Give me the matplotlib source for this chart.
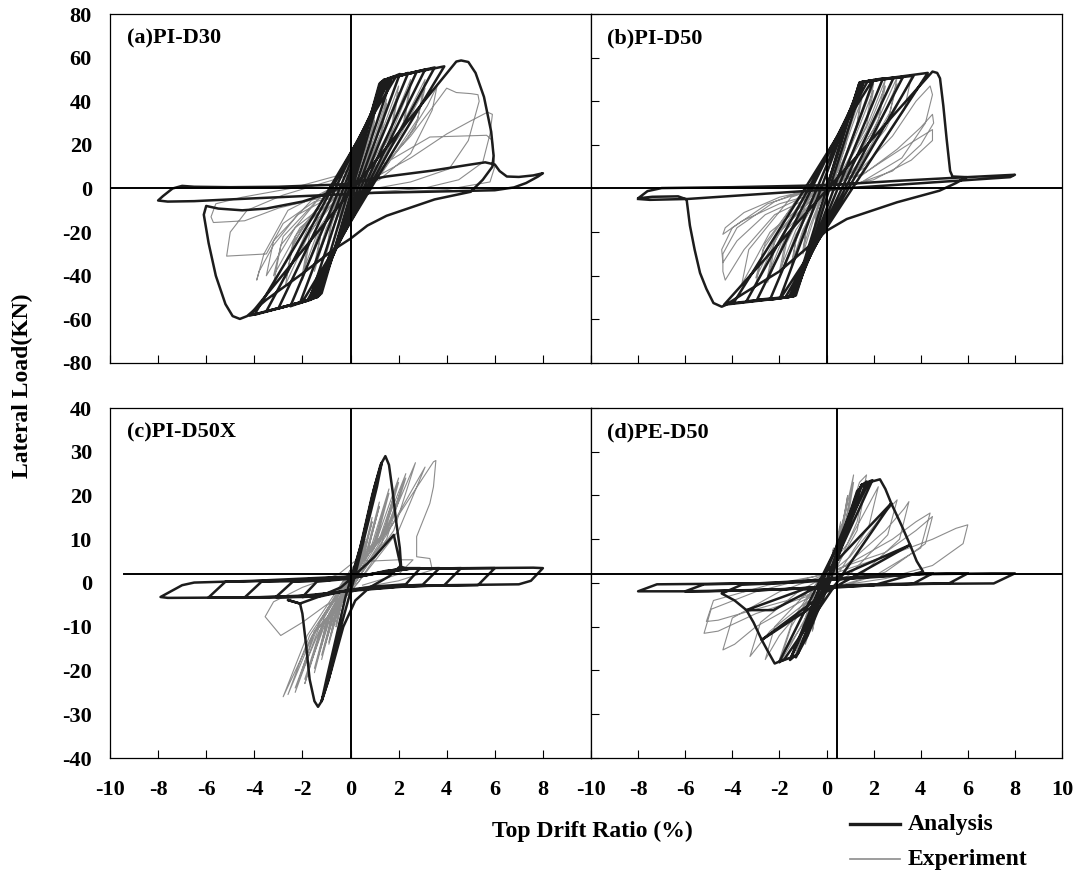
import numpy as np
import matplotlib.pyplot as plt

plt.rcParams['font.family'] = ['Liberation Serif', 'DejaVu Serif']
plt.rcParams['font.weight'] = 'bold'
plt.rcParams['axes.unicode_minus'] = False

ANA_COLOR = '#1c1c1c'
EXP_COLOR = '#8c8c8c'

# (a) PI-D30 : analysis path (drift %, load kN)
a_ana = [
    (0.0, 0.0), (1.2, 48), (1.4, 50), (-1.2, -48), (-1.4, -50),
    (1.25, 48.5), (1.7, 50.5), (-1.3, -49), (-1.7, -51),
    (1.3, 49), (2.05, 52.5), (-1.35, -49.5), (-2.1, -52.5),
    (1.4, 49.5), (2.4, 53), (-1.45, -50), (-2.5, -54),
    (1.45, 50), (2.75, 53.5), (-1.55, -50.5), (-3.0, -55),
    (1.55, 50.5), (3.1, 54.5), (-1.65, -51), (-3.5, -56.3),
    (1.7, 51), (3.5, 55.5), (-1.8, -51.5), (-4.0, -57.9),
    (1.9, 51.5), (3.9, 56), (-2.0, -52), (-4.2, -58.3),
    (4.4, 58.2), (4.6, 58.7), (4.9, 58.0), (5.2, 53), (5.55, 42),
    (5.85, 26), (5.95, 15), (5.9, 10), (5.5, 4), (5.0, -1.5), (3.5, -5),
    (1.5, -12.5), (0.7, -17), (0.0, -23), (-0.7, -28), (-2.0, -39),
    (-3.5, -51), (-4.3, -58.5), (-4.6, -59.8), (-4.9, -58.5), (-5.2, -53),
    (-5.6, -40), (-5.9, -25), (-6.1, -12), (-6.0, -8), (-5.5, -9.2),
    (-4.5, -10), (-3.5, -9.2), (-2.0, -6), (-1.0, -2.5), (0.0, 2.5),
    (1.5, 5.5), (3.4, 8.2), (5.0, 11), (5.6, 12), (6.0, 11), (6.2, 8),
    (6.5, 5.5), (7.0, 5.3), (7.6, 6), (8.0, 7), (7.8, 5.5), (7.3, 2.5),
    (6.8, 0.5), (6.0, -0.8), (4.0, -1.3), (1.0, -2), (-1.0, -3),
    (-3.0, -4), (-5.0, -5), (-6.5, -5.8), (-7.6, -6), (-8.0, -5.5),
    (-7.8, -3.5), (-7.4, 0), (-7.0, 1.2), (-6.5, 0.8), (-5.0, 0.6),
    (-3.0, 0.8), (0.0, 2),
]

# (a) PI-D30 : experiment path
a_exp = [
    (0.0, 0.0), (0.25, 11), (0.5, 20), (0.4, 12), (0.15, 3), (-0.2, -6),
    (-0.4, -14), (-0.5, -18), (-0.4, -10), (-0.15, -2),
    (0.2, 6), (0.4, 15), (0.5, 19), (0.38, 11), (0.1, 2), (-0.2, -7),
    (-0.42, -15), (-0.5, -17), (-0.38, -9), (-0.1, -1),
    (0.3, 7), (0.7, 22), (1.0, 33), (0.8, 20), (0.4, 5), (-0.2, -4),
    (-0.7, -18), (-1.0, -30), (-0.8, -17), (-0.4, -4),
    (0.2, 4), (0.7, 20), (1.0, 31), (0.8, 18), (0.3, 3), (-0.3, -5),
    (-0.7, -17), (-1.0, -28), (-0.8, -15), (-0.3, -2),
    (0.4, 6), (1.0, 24), (1.5, 41), (1.25, 25), (0.6, 6), (-0.3, -4),
    (-1.0, -20), (-1.5, -38), (-1.25, -22), (-0.5, -3),
    (0.4, 5), (1.0, 22), (1.5, 39), (1.25, 23), (0.5, 4), (-0.4, -5),
    (-1.0, -18), (-1.5, -35), (-1.2, -19), (-0.5, -2),
    (0.5, 6), (1.3, 26), (2.0, 47), (1.7, 28), (0.8, 7), (-0.4, -4),
    (-1.3, -20), (-2.0, -42), (-1.7, -24), (-0.7, -3),
    (0.5, 5), (1.3, 24), (2.0, 44), (1.7, 26), (0.7, 5), (-0.5, -5),
    (-1.3, -18), (-2.0, -39), (-1.7, -21), (-0.7, -2),
    (0.6, 6), (1.6, 26), (2.5, 50), (2.2, 30), (1.0, 7), (-0.5, -4),
    (-1.7, -20), (-2.7, -44), (-2.4, -25), (-1.0, -3),
    (0.6, 5), (1.7, 25), (2.5, 47), (2.2, 28), (0.9, 5), (-0.6, -5),
    (-1.8, -19), (-2.7, -41), (-2.3, -22), (-0.9, -2),
    (0.8, 6), (2.0, 26), (3.1, 50), (2.8, 32), (1.3, 7), (-0.6, -4),
    (-2.0, -18), (-3.2, -44), (-2.9, -26), (-1.2, -3),
    (0.8, 5), (2.1, 25), (3.1, 46), (2.7, 28), (1.1, 5), (-0.7, -5),
    (-2.1, -18), (-3.2, -40), (-2.8, -22), (-1.1, -2),
    (1.0, 5), (2.3, 22), (3.2, 38), (3.6, 47), (3.4, 36), (2.5, 16),
    (1.2, 4), (-0.8, -5), (-2.3, -18), (-3.5, -40), (-3.2, -24),
    (-1.5, -4), (0.2, 3),
    (1.0, 6), (2.5, 24), (3.6, 40), (4.0, 46), (4.4, 44), (5.0, 43.5),
    (5.3, 43), (5.35, 40), (4.9, 22), (4.1, 9), (2.5, 3), (0.5, -1),
    (-1.0, -5), (-2.2, -12), (-3.2, -26), (-3.8, -38), (-3.9, -42),
    (-3.6, -30), (-2.6, -10), (-1.0, -1), (0.5, 5),
    (1.0, 5), (2.5, 14), (4.0, 25), (5.0, 31), (5.7, 35), (5.9, 34),
    (5.8, 25), (5.5, 12), (4.5, 4), (3.0, 0), (0.5, -2), (-1.5, -6),
    (-2.8, -16), (-3.5, -30), (-4.3, -30.5), (-5.15, -31), (-5.0, -20),
    (-4.3, -10), (-2.8, -3), (-1.0, 3), (0.2, 7),
    (1.5, 12), (3.3, 23.6), (4.5, 24), (5.66, 24.4), (5.9, 22), (6.0, 10),
    (5.8, 3), (4.0, -0.5), (1.0, -2), (-1.5, -5), (-3.0, -9),
    (-4.4, -14.8), (-5.7, -15.6), (-5.8, -13), (-5.6, -7), (-4.5, -4),
    (-2.5, 0), (-0.5, 6), (0.0, 9),
]

# (b) PI-D50 : analysis path
b_ana = [
    (0.0, 0.0), (1.4, 48.5), (1.56, 49), (-1.3, -49), (-1.41, -49.4),
    (1.4, 48.5), (2.0, 49.7), (-1.35, -49.2), (-1.97, -50.2),
    (1.45, 48.7), (2.4, 50.5), (-1.4, -49.4), (-2.4, -51),
    (1.5, 48.8), (2.85, 50.8), (-1.5, -49.6), (-2.95, -51),
    (1.6, 49), (3.25, 51.2), (-1.6, -49.8), (-3.4, -51.7),
    (1.75, 49.2), (3.7, 51.7), (-1.75, -50), (-3.95, -52.5),
    (1.95, 49.6), (4.3, 53), (-1.95, -50.3), (-4.35, -53.3),
    (4.5, 53.6), (4.7, 53), (4.82, 50.5), (4.96, 38), (5.1, 22.8),
    (5.25, 8), (5.35, 5.5), (5.95, 5.2), (5.5, 2.5), (4.8, -1),
    (3.0, -6.3), (0.86, -14), (0.0, -19.4), (-0.56, -24.8), (-2.0, -38),
    (-3.5, -48), (-4.3, -53.5), (-4.45, -54.2), (-4.8, -52.5),
    (-5.1, -46), (-5.37, -38.7), (-5.6, -28), (-5.8, -17), (-5.94, -5),
    (-6.3, -3.6), (-7.4, -3.8), (-8.0, -4.5), (-7.6, -1.2), (-7.0, 0.2),
    (-4.0, 0.6), (0.0, 1.5), (3.0, 3.5), (5.95, 5.2), (8.0, 6.3),
    (7.8, 5.2), (-5.9, -4.8), (-7.5, -5.2), (-8.0, -4.8),
]

# (b) PI-D50 : experiment path
b_exp = [
    (0.0, 0.0), (0.25, 10), (0.5, 20), (0.4, 12), (0.1, 2), (-0.2, -7),
    (-0.5, -18), (-0.4, -10), (-0.1, -1),
    (0.25, 9), (0.5, 19), (0.38, 11), (0.1, 1), (-0.25, -8), (-0.5, -17),
    (-0.35, -8), (0.0, 0),
    (0.4, 12), (0.8, 26), (1.0, 34), (0.85, 22), (0.4, 6), (-0.2, -4),
    (-0.6, -16), (-1.0, -30), (-0.85, -18), (-0.4, -4),
    (0.3, 8), (0.8, 24), (1.0, 32), (0.8, 19), (0.3, 3), (-0.3, -6),
    (-0.7, -17), (-1.0, -28), (-0.8, -15), (-0.3, -2),
    (0.4, 8), (1.0, 28), (1.5, 44), (1.3, 30), (0.6, 8), (-0.3, -5),
    (-1.0, -20), (-1.5, -37), (-1.3, -24), (-0.6, -5),
    (0.4, 7), (1.0, 26), (1.5, 41), (1.25, 27), (0.5, 6), (-0.4, -6),
    (-1.0, -19), (-1.5, -35), (-1.25, -21), (-0.5, -3),
    (0.5, 8), (1.3, 28), (2.0, 48), (1.7, 32), (0.8, 9), (-0.4, -5),
    (-1.3, -21), (-2.0, -41), (-1.7, -25), (-0.7, -4),
    (0.5, 6), (1.3, 26), (2.0, 45), (1.7, 29), (0.7, 7), (-0.5, -6),
    (-1.3, -19), (-2.0, -38), (-1.7, -22), (-0.7, -3),
    (0.6, 7), (1.7, 28), (2.5, 50), (2.2, 34), (1.0, 9), (-0.5, -5),
    (-1.7, -21), (-2.5, -43), (-2.2, -27), (-0.9, -4),
    (0.6, 6), (1.7, 26), (2.5, 47), (2.2, 31), (0.9, 7), (-0.6, -6),
    (-1.7, -19), (-2.5, -40), (-2.2, -24), (-0.9, -3),
    (0.8, 7), (2.0, 27), (3.0, 51), (2.7, 35), (1.3, 9), (-0.6, -5),
    (-2.0, -20), (-3.0, -44), (-2.7, -28), (-1.2, -4),
    (0.8, 6), (2.1, 26), (3.0, 48), (2.6, 31), (1.2, 7), (-0.7, -6),
    (-2.0, -19), (-3.0, -41), (-2.6, -25), (-1.1, -3),
    (1.0, 7), (2.5, 27), (3.6, 51), (3.3, 36), (1.7, 10), (-0.7, -5),
    (-2.4, -20), (-3.6, -44), (-3.3, -28), (-1.5, -4),
    (1.2, 6), (2.8, 24), (3.8, 40), (4.4, 47), (4.5, 43), (4.2, 30),
    (3.2, 14), (1.5, 3), (-0.5, -3), (-2.2, -12), (-3.5, -28),
    (-4.3, -42), (-4.4, -38), (-4.4, -30), (-3.8, -18), (-2.2, -6),
    (-0.5, 1),
    (1.5, 6), (3.0, 18), (4.0, 28), (4.5, 34), (4.55, 30), (4.0, 20),
    (2.8, 8), (1.0, 1), (-1.0, -4), (-2.6, -12), (-3.8, -24),
    (-4.4, -34), (-4.45, -28), (-4.0, -18), (-2.5, -7), (-0.5, 0),
    (1.6, 7), (3.3, 19), (4.5, 27), (4.5, 22), (3.6, 13), (2.0, 4),
    (0.0, -1), (-2.0, -7), (-3.6, -15), (-4.4, -21), (-4.3, -18),
    (-3.5, -11), (-2.0, -4), (0.0, 1),
]

# (c) PI-D50X : analysis path
c_ana = [
    (0.0, 0.0), (0.5, 10), (1.0, 22), (1.3, 27.5), (1.1, 22), (0.2, 2),
    (-0.4, -10), (-0.9, -22), (-1.2, -27), (-1.0, -22), (-0.2, -3),
    (0.4, 8), (0.9, 20), (1.25, 27), (1.45, 29), (1.6, 27), (1.75, 21),
    (1.9, 14), (2.05, 8), (2.1, 4), (1.6, 1.5), (0.8, -1), (0.2, -4),
    (-0.3, -10), (-0.8, -20), (-1.2, -27), (-1.35, -28.3), (-1.5, -27),
    (-1.7, -22), (-1.85, -14), (-2.0, -7), (-2.1, -4.7), (-2.6, -3.9),
    (-2.1, -4.7), (-1.3, -3.1), (-0.4, -1), (0.1, 1.4), (1.0, 6),
    (1.8, 11), (2.0, 6), (2.1, 3.7), (2.3, 3.4), (2.9, 3.4),
    (2.3, -0.3), (1.0, -0.8), (0.0, -1.5), (-1.2, -3.0), (-2.0, -3.2),
    (-1.4, 0.3), (0.0, 1.0), (1.5, 2.8), (2.5, 3.3), (3.7, 3.4),
    (3.0, -0.4), (1.5, -0.8), (0.0, -1.6), (-1.5, -3.1), (-3.1, -3.2),
    (-2.4, 0.3), (-1.0, 0.6), (0.5, 1.6), (2.0, 3.2), (4.6, 3.4),
    (3.9, -0.5), (2.0, -0.8), (0.0, -1.7), (-2.0, -3.2), (-4.4, -3.3),
    (-3.7, 0.3), (-1.5, 0.5), (0.5, 1.7), (2.5, 3.3), (6.0, 3.4),
    (5.3, -0.5), (2.5, -0.7), (0.0, -1.8), (-2.5, -3.2), (-5.9, -3.3),
    (-5.2, 0.3), (-3.0, 0.5), (0.0, 1.4), (2.5, 3.3), (5.0, 3.4),
    (7.6, 3.5), (8.0, 3.4), (7.5, 0.5), (7.0, -0.3), (4.0, -0.5),
    (1.0, -1.0), (-1.5, -2.8), (-4.0, -3.3), (-7.6, -3.4), (-7.9, -3.2),
    (-7.5, -2.0), (-7.0, -0.5), (-6.5, 0.1), (-4.0, 0.5), (0.0, 1.5),
]

# (c) PI-D50X : experiment path
c_exp = [
    (0.0, 0.0), (0.3, 5), (0.15, 2), (-0.15, -2), (-0.3, -5), (-0.15, -2),
    (0.15, 2), (0.3, 4.5), (0.1, 1), (-0.1, -1), (-0.3, -4.5), (-0.1, -1),
    (0.3, 3), (0.6, 10), (0.35, 4), (0.0, -0.5), (-0.35, -4), (-0.6, -10),
    (-0.35, -4), (0.0, 0.5), (0.35, 4.5), (0.6, 9.5), (0.35, 3.5),
    (-0.35, -4), (-0.6, -9.5), (-0.3, -3),
    (0.1, 1), (0.5, 6), (0.9, 15), (0.55, 6), (0.1, 0), (-0.5, -6),
    (-0.9, -14), (-0.55, -5), (0.0, 0.5), (0.5, 6), (0.9, 14), (0.5, 5),
    (-0.5, -6), (-0.9, -13.5), (-0.5, -4.5),
    (0.0, 1), (0.7, 8), (1.2, 18.5), (0.75, 8), (0.1, 0), (-0.7, -7),
    (-1.2, -17.5), (-0.75, -7), (0.0, 0.5), (0.7, 7), (1.2, 17.5),
    (0.7, 7), (-0.7, -8), (-1.2, -16.5), (-0.7, -6),
    (0.0, 1.5), (0.9, 9), (1.6, 21.5), (1.0, 9), (0.1, 0), (-0.9, -8),
    (-1.5, -20.5), (-1.0, -9), (0.0, 0.5), (0.9, 8), (1.6, 20.5),
    (1.0, 8), (-0.9, -9), (-1.5, -19.5), (-0.9, -7),
    (0.0, 2), (1.1, 10), (2.0, 24), (1.3, 10), (0.2, 0), (-1.1, -9),
    (-1.9, -23), (-1.2, -10), (0.0, 1), (1.2, 10), (2.0, 23), (1.3, 9),
    (-1.1, -10), (-1.9, -22), (-1.1, -8),
    (0.0, 2.5), (1.3, 11), (2.3, 25), (1.5, 11), (0.2, 0), (-1.3, -10),
    (-2.3, -25), (-1.5, -11), (0.0, 1.5), (1.4, 11), (2.3, 24), (1.5, 10),
    (-1.3, -11), (-2.3, -24), (-1.3, -9),
    (0.0, 3), (1.5, 12), (2.7, 27.5), (1.8, 12), (0.3, 0), (-1.5, -11),
    (-2.6, -25.5), (-1.7, -12), (0.0, 2), (1.6, 12), (3.1, 26.5),
    (2.0, 12), (0.3, 0), (-1.6, -12), (-2.8, -26), (-1.8, -12),
    (0.0, 3), (1.7, 13), (3.45, 27.7), (3.55, 28), (3.45, 22),
    (3.3, 18.2), (2.75, 10.6), (2.75, 6), (3.3, 5.6), (3.4, 3),
    (2.0, 0.5), (0.5, -1), (-1.0, -5), (-2.0, -9), (-2.9, -12),
    (-3.55, -7.7), (-3.2, -4.3), (-2.0, -1), (-0.5, 2), (0.3, 5.5),
    (0.8, 5), (2.0, 5.3), (2.6, 5.3), (2.0, 2), (0.5, -0.5),
]

# (d) PE-D50 : analysis path
d_ana = [
    (0.0, 0.0), (0.6, 9), (1.2, 19), (1.5, 22.5), (0.2, 1), (-0.8, -12),
    (-1.3, -17), (0.0, 0), (1.3, 21), (1.7, 23.2), (-1.2, -16),
    (-1.55, -17.6), (1.5, 22.5), (1.95, 23.5), (-1.5, -17), (-2.0, -18),
    (1.8, 23), (2.27, 23.7), (2.5, 21.5), (2.75, 18.2), (0.3, -1),
    (-1.8, -17.5), (-2.2, -18.4), (-2.5, -15.5), (-2.75, -13),
    (-0.6, -5.4), (0.0, 2.6), (2.75, 18.2), (3.2, 13), (3.55, 8.7),
    (0.0, -2), (-2.75, -13), (-3.1, -9), (-3.4, -6.2),
    (-2.26, -6.2), (0.0, 0.3), (3.55, 8.7), (3.83, 5), (4.1, 2.6),
    (2.0, -0.5), (-1.0, -1.5), (-3.4, -6.2), (-3.9, -4), (-4.45, -2.4),
    (-3.6, -0.4), (-1.0, 0.2), (2.0, 1.5), (4.5, 2.2),
    (3.7, -0.1), (1.0, -0.5), (-2.0, -1.5), (-6.0, -1.9),
    (-5.2, -0.3), (-2.0, 0.0), (1.5, 1.5), (4.0, 2.1), (6.0, 2.2),
    (5.2, -0.1), (2.0, -0.4), (-2.0, -1.5), (-5.0, -1.9), (-8.0, -1.9),
    (-7.2, -0.3), (-3.0, -0.1), (1.0, 1.0), (4.0, 2.0), (7.0, 2.2),
    (8.0, 2.2), (7.1, -0.1), (4.0, -0.2), (0.5, -0.8), (-3.5, -1.8),
]

# (d) PE-D50 : experiment path
d_exp = [
    (0.0, 0.0), (0.15, 4), (0.3, 8), (0.15, 3), (-0.1, -2), (-0.3, -6),
    (-0.15, -2), (0.1, 2), (0.3, 7.5), (0.1, 1), (-0.3, -5.5), (-0.1, -1),
    (0.3, 6), (0.6, 14), (0.4, 7), (0.0, 0), (-0.4, -6), (-0.6, -11),
    (-0.4, -5), (0.0, 1), (0.4, 8), (0.6, 13), (0.35, 5), (-0.4, -6),
    (-0.6, -10), (-0.3, -3),
    (0.3, 6), (0.7, 14), (0.9, 20), (0.6, 10), (0.1, 1), (-0.5, -7),
    (-0.9, -14), (-0.6, -7), (0.0, 1), (0.6, 12), (0.9, 19), (0.55, 8),
    (-0.5, -7), (-0.9, -13), (-0.5, -5),
    (0.2, 4), (0.8, 16), (1.15, 24.7), (0.8, 13), (0.1, 1), (-0.7, -8),
    (-1.3, -17), (-0.9, -9), (0.0, 1), (0.8, 14), (1.15, 23), (0.8, 11),
    (-0.7, -9), (-1.3, -16), (-0.8, -6),
    (0.2, 4), (1.0, 16), (1.4, 23), (1.7, 24.7), (1.3, 14), (0.4, 3),
    (-0.7, -6), (-1.5, -14), (-2.0, -18.4), (-1.5, -10), (-0.4, 0),
    (0.8, 10), (1.7, 23), (1.3, 12), (-0.7, -7), (-2.0, -17.5),
    (-1.4, -8),
    (-0.3, 1), (0.9, 9), (1.9, 19), (2.2, 22), (1.8, 13), (0.6, 3),
    (-0.9, -5), (-2.0, -12), (-2.6, -17.5), (-2.2, -10), (-0.8, -2),
    (1.0, 6), (2.3, 15), (3.0, 19), (2.6, 11), (1.0, 2), (-1.0, -5),
    (-2.4, -11), (-3.25, -16.8), (-2.8, -9), (-1.2, -2),
    (0.8, 4), (2.5, 12), (3.3, 17), (3.5, 18.6), (3.1, 10), (1.5, 2),
    (-1.0, -4), (-3.0, -10), (-3.9, -14), (-4.4, -15.3), (-4.0, -8),
    (-2.0, -2),
    (0.5, 3), (2.8, 10), (3.8, 14), (4.4, 16), (4.0, 8), (2.0, 1.5),
    (-0.5, -2.5), (-3.0, -7), (-4.6, -11), (-5.2, -11.5), (-4.9, -6),
    (-3.0, -2),
    (-0.5, 1.5), (2.5, 7), (3.8, 12), (4.5, 15.2), (4.2, 9), (2.5, 2.5),
    (0.0, -1.5), (-3.0, -6), (-4.6, -8.5), (-5.1, -8.8), (-4.8, -4),
    (-2.5, -0.5),
    (0.5, 2.5), (3.0, 7), (4.5, 10), (5.5, 12.5), (6.0, 13.3), (5.8, 9),
    (4.5, 4), (2.5, 1), (0.0, -1),
]

panel_labels = ['(a)PI-D30', '(b)PI-D50', '(c)PI-D50X', '(d)PE-D50']
top_yticks = [-80, -60, -40, -20, 0, 20, 40, 60, 80]
bottom_yticks = [-40, -30, -20, -10, 0, 10, 20, 30, 40]
xticks = [-10, -8, -6, -4, -2, 0, 2, 4, 6, 8, 10]

fig = plt.figure(figsize=(10.78, 8.72), dpi=100)
W, H = 1078.0, 872.0
pos = {
    'a': [110 / W, 1 - 363 / H, 481 / W, 349 / H],
    'b': [591 / W, 1 - 363 / H, 471 / W, 349 / H],
    'c': [110 / W, 1 - 758 / H, 481 / W, 350 / H],
    'd': [591 / W, 1 - 758 / H, 471 / W, 350 / H],
}

# key, analysis, experiment, y ticks, reference lines (y, x, start of y line)
setups = [
    ('a', a_ana, a_exp, top_yticks, 0.0, 0.0, -10),
    ('b', b_ana, b_exp, top_yticks, 0.0, 0.0, -10),
    ('c', c_ana, c_exp, bottom_yticks, 2.1, 0.0, -9.4),
    ('d', d_ana, d_exp, bottom_yticks, 2.1, 0.43, -10),
]

for i, (key, ana, exp, yt, hline, vline, hstart) in enumerate(setups):
    ax = fig.add_axes(pos[key])
    ex = np.array(exp)
    an = np.array(ana)
    ax.plot(ex[:, 0], ex[:, 1], color=EXP_COLOR, lw=0.8, zorder=2)
    ax.plot(an[:, 0], an[:, 1], color=ANA_COLOR, lw=1.8, zorder=3,
            solid_joinstyle='round')
    ax.plot([hstart, 10], [hline, hline], color='black', lw=1.4, zorder=4)
    ax.axvline(vline, color='black', lw=1.4, zorder=4)

    ax.set_xlim(-10, 10)
    ax.set_ylim(yt[0], yt[-1])
    ax.set_xticks(xticks)
    ax.set_yticks(yt)
    for s in ax.spines.values():
        s.set_linewidth(0.9)

    left = key in ('a', 'c')
    bottom = key in ('c', 'd')
    ax.tick_params(axis='x', direction='in', length=6, width=0.8,
                   labelbottom=bottom, labelsize=16, pad=16)
    if left:
        ax.tick_params(axis='y', length=0, labelsize=16, pad=13)
    else:
        ax.tick_params(axis='y', direction='in', length=6, width=0.8,
                       labelleft=False)
    if key == 'c':
        ax.set_xticklabels([str(t) for t in xticks[:-1]] + [''])
    ax.text(0.035, 0.93, panel_labels[i], transform=ax.transAxes,
            fontsize=16, fontweight='bold', va='center', ha='left')

fig.text(22 / W, 1 - 386 / H, 'Lateral Load(KN)', rotation=90,
         fontsize=17, fontweight='bold', ha='center', va='center')
fig.text(592 / W, 1 - 831 / H, 'Top Drift Ratio (%)', fontsize=17,
         fontweight='bold', ha='center', va='center')

# legend drawn as figure lines and text
fig.add_artist(plt.Line2D([850 / W, 900 / W], [1 - 824 / H, 1 - 824 / H],
                          color=ANA_COLOR, lw=2.4))
fig.add_artist(plt.Line2D([850 / W, 900 / W], [1 - 859 / H, 1 - 859 / H],
                          color=EXP_COLOR, lw=1.2))
fig.text(908 / W, 1 - 824 / H, 'Analysis', fontsize=17, fontweight='bold',
         va='center', ha='left')
fig.text(908 / W, 1 - 859 / H, 'Experiment', fontsize=17, fontweight='bold',
         va='center', ha='left')

fig.savefig('out.png', dpi=100)
